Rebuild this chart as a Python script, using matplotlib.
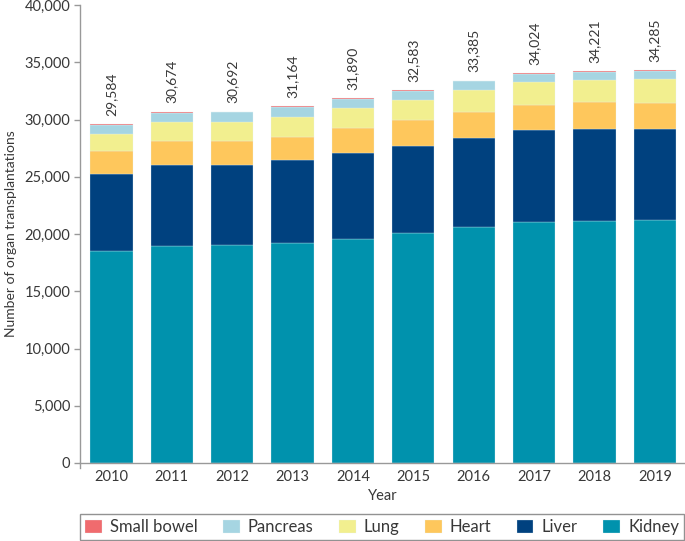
import numpy as np
import matplotlib
matplotlib.use("Agg")
import matplotlib.pyplot as plt
from matplotlib.ticker import FuncFormatter

plt.rcParams["font.family"] = ["Lato", "DejaVu Sans"]

# ---- dati ----
anni = ["2010", "2011", "2012", "2013", "2014", "2015", "2016", "2017", "2018", "2019"]
rene = [18500, 18990, 19075, 19225, 19600, 20095, 20620, 21080, 21165, 21255]
fegato = [6735, 7055, 6970, 7205, 7440, 7605, 7750, 8015, 8015, 7925]
cuore = [2030, 2065, 2065, 2000, 2200, 2240, 2290, 2175, 2325, 2240]
polmone = [1480, 1655, 1715, 1795, 1805, 1800, 1950, 2005, 1945, 2150]
pancreas = [770, 840, 800, 860, 780, 780, 710, 680, 710, 640]
intestino = [69, 69, 67, 79, 65, 63, 65, 69, 61, 75]
totali = [29584, 30674, 30692, 31164, 31890, 32583, 33385, 34024, 34221, 34285]

serie = [
    ("Kidney", rene, "#0092ad"),
    ("Liver", fegato, "#00417f"),
    ("Heart", cuore, "#fec75c"),
    ("Lung", polmone, "#f2ef8f"),
    ("Pancreas", pancreas, "#a6d5e2"),
    ("Small bowel", intestino, "#f06b6e"),
]
GRIGIO = "#999999"
TESTO = "#383838"

fig = plt.figure(figsize=(6.85, 5.41), dpi=100)
ax = fig.add_axes([80 / 685, 1 - 463 / 541, 1 - 80 / 685, (463 - 5) / 541])

x = np.arange(len(anni))
base = np.zeros(len(anni))
handles = {}
for nome, val, col in serie:
    b = ax.bar(x, val, bottom=base, width=0.7, color=col, edgecolor="#e6f2f5", linewidth=0.2, label=nome)
    handles[nome] = b
    base += np.array(val)

for xi, tot, top in zip(x, totali, base):
    ax.annotate(f"{tot:,}", (xi, top), xytext=(0, 6), textcoords="offset points",
                rotation=90, ha="center", va="bottom", fontsize=10, color=TESTO)

ax.set_xlim(-0.52, 9.5)
ax.set_ylim(0, 40000)
ax.set_yticks(np.arange(0, 40001, 5000))
ax.yaxis.set_major_formatter(FuncFormatter(lambda v, p: f"{int(v):,}"))
ax.set_xticks(x)
ax.set_xticklabels(anni)
ax.tick_params(axis="y", direction="out", length=4, width=1, color=GRIGIO, labelsize=10.5, labelcolor=TESTO, pad=3)
ax.tick_params(axis="x", length=0, labelsize=10.5, labelcolor=TESTO, pad=5)
for s in ("top", "right"):
    ax.spines[s].set_visible(False)
for s in ("left", "bottom"):
    ax.spines[s].set_color(GRIGIO)
    ax.spines[s].set_linewidth(1)
ax.spines["left"].set_bounds(-400, 40000)

ax.set_xlabel("Year", fontsize=10.5, color=TESTO, labelpad=4)
ax.set_ylabel("Number of organ transplantations", fontsize=10, color=TESTO, labelpad=5)

ordine = ["Small bowel", "Pancreas", "Lung", "Heart", "Liver", "Kidney"]
leg = fig.legend([handles[n] for n in ordine], ordine, loc="lower left", ncol=6,
                 bbox_to_anchor=(80 / 685, 1 / 541, 604 / 685, 28 / 541), mode="expand",
                 fontsize=12, frameon=True, fancybox=False, edgecolor="#777777",
                 handlelength=1.0, handleheight=0.8, handletextpad=0.5, columnspacing=1.5,
                 borderpad=0.3, borderaxespad=0)
leg.get_frame().set_linewidth(1)
for t in leg.get_texts():
    t.set_color(TESTO)

fig.savefig("out.png", dpi=100)
